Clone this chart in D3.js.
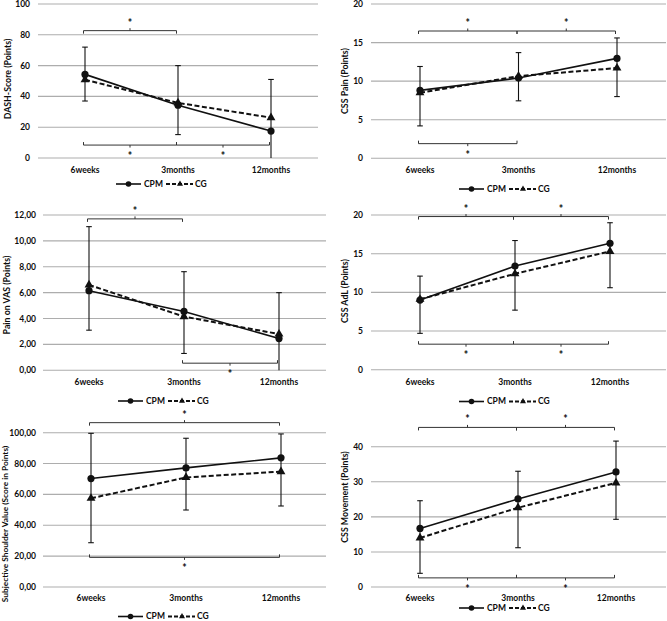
<!DOCTYPE html>
<html><head><meta charset="utf-8">
<script src="https://cdn.jsdelivr.net/npm/d3@7"></script>
<style>
html,body{margin:0;padding:0;background:#fff;}
svg{display:block;}
text{font-family:Lato,"Open Sans",sans-serif;font-weight:bold;fill:#0d0d0d;}
</style></head>
<body><svg id="chart" width="667" height="621"></svg>
<script>
// ---------- DATA ----------
const categories = ["6weeks", "3months", "12months"];
const seriesNames = ["CPM", "CG"];

// DASH-Score
const dashCPM = [54.3, 34.3, 17.5];
const dashCG = [50.8, 35.8, 26.2];
const dashLow = [37, 15.2, 0];
const dashHigh = [72, 60, 51];
const dashTicks = [0, 20, 40, 60, 80, 100];

// CSS Pain
const painCPM = [8.8, 10.4, 12.95];
const painCG = [8.5, 10.65, 11.7];
const painLow = [4.2, 7.45, 8.0];
const painHigh = [11.9, 13.7, 15.6];
const painTicks = [0, 5, 10, 15, 20];

// Pain on VAS
const vasCPM = [6.15, 4.55, 2.45];
const vasCG = [6.6, 4.15, 2.8];
const vasLow = [3.1, 1.3, 0];
const vasHigh = [11.1, 7.62, 6.0];
const vasTicks = [0, 2, 4, 6, 8, 10, 12];

// CSS AdL
const adlCPM = [9.0, 13.4, 16.35];
const adlCG = [9.1, 12.4, 15.3];
const adlLow = [4.7, 7.7, 10.6];
const adlHigh = [12.1, 16.7, 19.0];
const adlTicks = [0, 5, 10, 15, 20];

// Subjective Shoulder Value
const ssvCPM = [70.3, 77.2, 83.7];
const ssvCG = [57.5, 71.0, 74.8];
const ssvLow = [28.7, 49.9, 52.5];
const ssvHigh = [99.6, 96.4, 99.2];
const ssvTicks = [0, 20, 40, 60, 80, 100];

// CSS Movement
const movCPM = [16.7, 25.1, 32.8];
const movCG = [14.0, 22.6, 29.7];
const movLow = [3.9, 11.2, 19.3];
const movHigh = [24.6, 33.0, 41.6];
const movTicks = [0, 10, 20, 30, 40];

// significance brackets: [fromIndex, toIndex, level, side]
const dashBrackets = [[0, 1, 82.7, "top"], [0, 1, 8.4, "bottom"], [1, 2, 8.4, "bottom"]];
const painBrackets = [[0, 1, 16.5, "top"], [1, 2, 16.5, "top"], [0, 1, 1.9, "bottom"]];
const vasBrackets = [[0, 1, 11.7, "top"], [1, 2, 0.55, "bottom"]];
const adlBrackets = [[0, 1, 19.8, "top"], [1, 2, 19.8, "top"], [0, 1, 3.3, "bottom"], [1, 2, 3.3, "bottom"]];
const ssvBrackets = [[0, 2, 106.5, "top"], [0, 2, 19.2, "bottom"]];
const movBrackets = [[0, 1, 45.5, "top"], [1, 2, 45.5, "top"], [0, 1, 2.6, "bottom"], [1, 2, 2.6, "bottom"]];

// ---------- PANELS ----------
const intFmt = d3.format("d");
const commaFmt = v => d3.format(".2f")(v).replace(".", ",");

const panels = [
  {title: "DASH-Score (Points)", cpm: dashCPM, cg: dashCG, low: dashLow, high: dashHigh, ticks: dashTicks, fmt: intFmt, brackets: dashBrackets,
   L: {gx0: 38, gx1: 318, cx: [85, 271], y: [158, 4], tickX: 30, titleX: 8, titleY: 79, catY: 173, legX: 116, legY: 184}},
  {title: "CSS Pain (Points)", cpm: painCPM, cg: painCG, low: painLow, high: painHigh, ticks: painTicks, fmt: intFmt, brackets: painBrackets,
   L: {gx0: 371, gx1: 666, cx: [420, 617], y: [158.3, 4], tickX: 363, titleX: 345, titleY: 81, catY: 173, legX: 459, legY: 189}},
  {title: "Pain on VAS (Points)", cpm: vasCPM, cg: vasCG, low: vasLow, high: vasHigh, ticks: vasTicks, fmt: commaFmt, brackets: vasBrackets,
   L: {gx0: 43, gx1: 326, cx: [89, 279], y: [370.3, 215], tickX: 36, titleX: 7, titleY: 295, catY: 385, legX: 118, legY: 401}},
  {title: "CSS AdL (Points)", cpm: adlCPM, cg: adlCG, low: adlLow, high: adlHigh, ticks: adlTicks, fmt: intFmt, brackets: adlBrackets,
   L: {gx0: 371, gx1: 666, cx: [420, 610], y: [369.7, 215], tickX: 363, titleX: 345, titleY: 291, catY: 385, legX: 459, legY: 401.5}},
  {title: "Subjective Shoulder Value (Score in Points)", cpm: ssvCPM, cg: ssvCG, low: ssvLow, high: ssvHigh, ticks: ssvTicks, fmt: commaFmt, brackets: ssvBrackets,
   L: {gx0: 43, gx1: 326, cx: [91, 281], y: [587, 432.7], tickX: 36, titleX: 5, titleY: 524, catY: 601, legX: 118, legY: 616.5}},
  {title: "CSS Movement (Points)", cpm: movCPM, cg: movCG, low: movLow, high: movHigh, ticks: movTicks, fmt: intFmt, brackets: movBrackets,
   L: {gx0: 371, gx1: 666, cx: [420, 616], y: [587, 446.7], tickX: 363, titleX: 345, titleY: 497, catY: 601, legX: 459, legY: 608}}
];

const svg = d3.select("#chart");
const ink = "#111";
const gridCol = "#adadad";
const triangle = d3.symbol().type(d3.symbolTriangle);
const circleR = 3.6;

panels.forEach(p => {
  const L = p.L;
  const g = svg.append("g");
  const x = d3.scalePoint().domain(categories).range(L.cx);
  const yMax = p.ticks[p.ticks.length - 1];
  const y = d3.scaleLinear().domain([0, yMax]).range(L.y);

  // gridlines
  g.selectAll(".grid").data(p.ticks).join("line")
    .attr("x1", L.gx0).attr("x2", L.gx1)
    .attr("y1", d => y(d)).attr("y2", d => y(d))
    .attr("stroke", gridCol).attr("stroke-width", 1.1);

  // tick labels
  g.selectAll(".tl").data(p.ticks).join("text")
    .attr("x", L.tickX).attr("y", d => y(d)).attr("dy", "0.35em")
    .attr("text-anchor", "end").attr("font-size", 8.5)
    .text(d => p.fmt(d));

  // y title
  g.append("text")
    .attr("transform", `translate(${L.titleX},${L.titleY}) rotate(-90)`)
    .attr("text-anchor", "middle").attr("dy", "0.35em")
    .attr("font-size", p.title.length > 30 ? 8.3 : 8.8)
    .text(p.title);

  // category labels
  g.selectAll(".cl").data(categories).join("text")
    .attr("x", d => x(d)).attr("y", L.catY)
    .attr("text-anchor", "middle").attr("font-size", 8.5)
    .text(d => d);

  // error bars
  const eb = categories.map((c, i) => ({c, lo: p.low[i], hi: p.high[i]}));
  g.selectAll(".eb").data(eb).join("line")
    .attr("x1", d => x(d.c)).attr("x2", d => x(d.c))
    .attr("y1", d => y(d.lo)).attr("y2", d => y(d.hi))
    .attr("stroke", ink).attr("stroke-width", 1.1);
  ["lo", "hi"].forEach(k => {
    g.selectAll(".cap" + k).data(eb.filter(d => d[k] > 0)).join("line")
      .attr("x1", d => x(d.c) - 2.8).attr("x2", d => x(d.c) + 2.8)
      .attr("y1", d => y(d[k])).attr("y2", d => y(d[k]))
      .attr("stroke", ink).attr("stroke-width", 1.1);
  });

  // lines
  const line = d3.line().x((d, i) => x(categories[i])).y(d => y(d));
  g.append("path").attr("d", line(p.cg)).attr("fill", "none")
    .attr("stroke", ink).attr("stroke-width", 2).attr("stroke-dasharray", "5,2.5");
  g.append("path").attr("d", line(p.cpm)).attr("fill", "none")
    .attr("stroke", ink).attr("stroke-width", 1.6);

  // markers
  g.selectAll(".tri").data(p.cg).join("path")
    .attr("d", triangle.size(34)())
    .attr("transform", (d, i) => `translate(${x(categories[i])},${y(d)})`)
    .attr("fill", ink);
  g.selectAll(".cir").data(p.cpm).join("circle")
    .attr("cx", (d, i) => x(categories[i])).attr("cy", d => y(d))
    .attr("r", circleR).attr("fill", ink);

  // significance brackets
  p.brackets.forEach(([a, b, lvl, side]) => {
    const x0 = x(categories[a]) - 1.5, x1 = x(categories[b]) - 1.5;
    const yy = y(lvl);
    const s = side === "top" ? 1 : -1; // end ticks point toward data
    const path = d3.path();
    path.moveTo(x0, yy + 3 * s); path.lineTo(x0, yy); path.lineTo(x1, yy); path.lineTo(x1, yy + 3 * s);
    const xm = (x0 + x1) / 2;
    path.moveTo(xm, yy); path.lineTo(xm, yy - 2.5 * s);
    g.append("path").attr("d", path.toString()).attr("fill", "none")
      .attr("stroke", "#333").attr("stroke-width", 1);
    g.append("text").attr("x", xm).attr("y", side === "top" ? yy - 4 : yy + 15)
      .attr("text-anchor", "middle").attr("font-size", 10.5).text("*");
  });

  // legend
  const lg = g.append("g").attr("transform", `translate(${L.legX},${L.legY})`);
  lg.append("line").attr("x1", 0).attr("x2", 25).attr("y1", 0).attr("y2", 0)
    .attr("stroke", ink).attr("stroke-width", 1.6);
  lg.append("circle").attr("cx", 12.5).attr("cy", 0).attr("r", 2.8).attr("fill", ink);
  lg.append("text").attr("x", 28).attr("y", 0).attr("dy", "0.35em").attr("font-size", 8.5).text(seriesNames[0]);
  lg.append("line").attr("x1", 50).attr("x2", 77).attr("y1", 0).attr("y2", 0)
    .attr("stroke", ink).attr("stroke-width", 1.8).attr("stroke-dasharray", "4,2");
  lg.append("path").attr("d", triangle.size(16)()).attr("transform", "translate(64,0)").attr("fill", ink);
  lg.append("text").attr("x", 79).attr("y", 0).attr("dy", "0.35em").attr("font-size", 8.5).text(seriesNames[1]);
});
</script>
</body></html>
